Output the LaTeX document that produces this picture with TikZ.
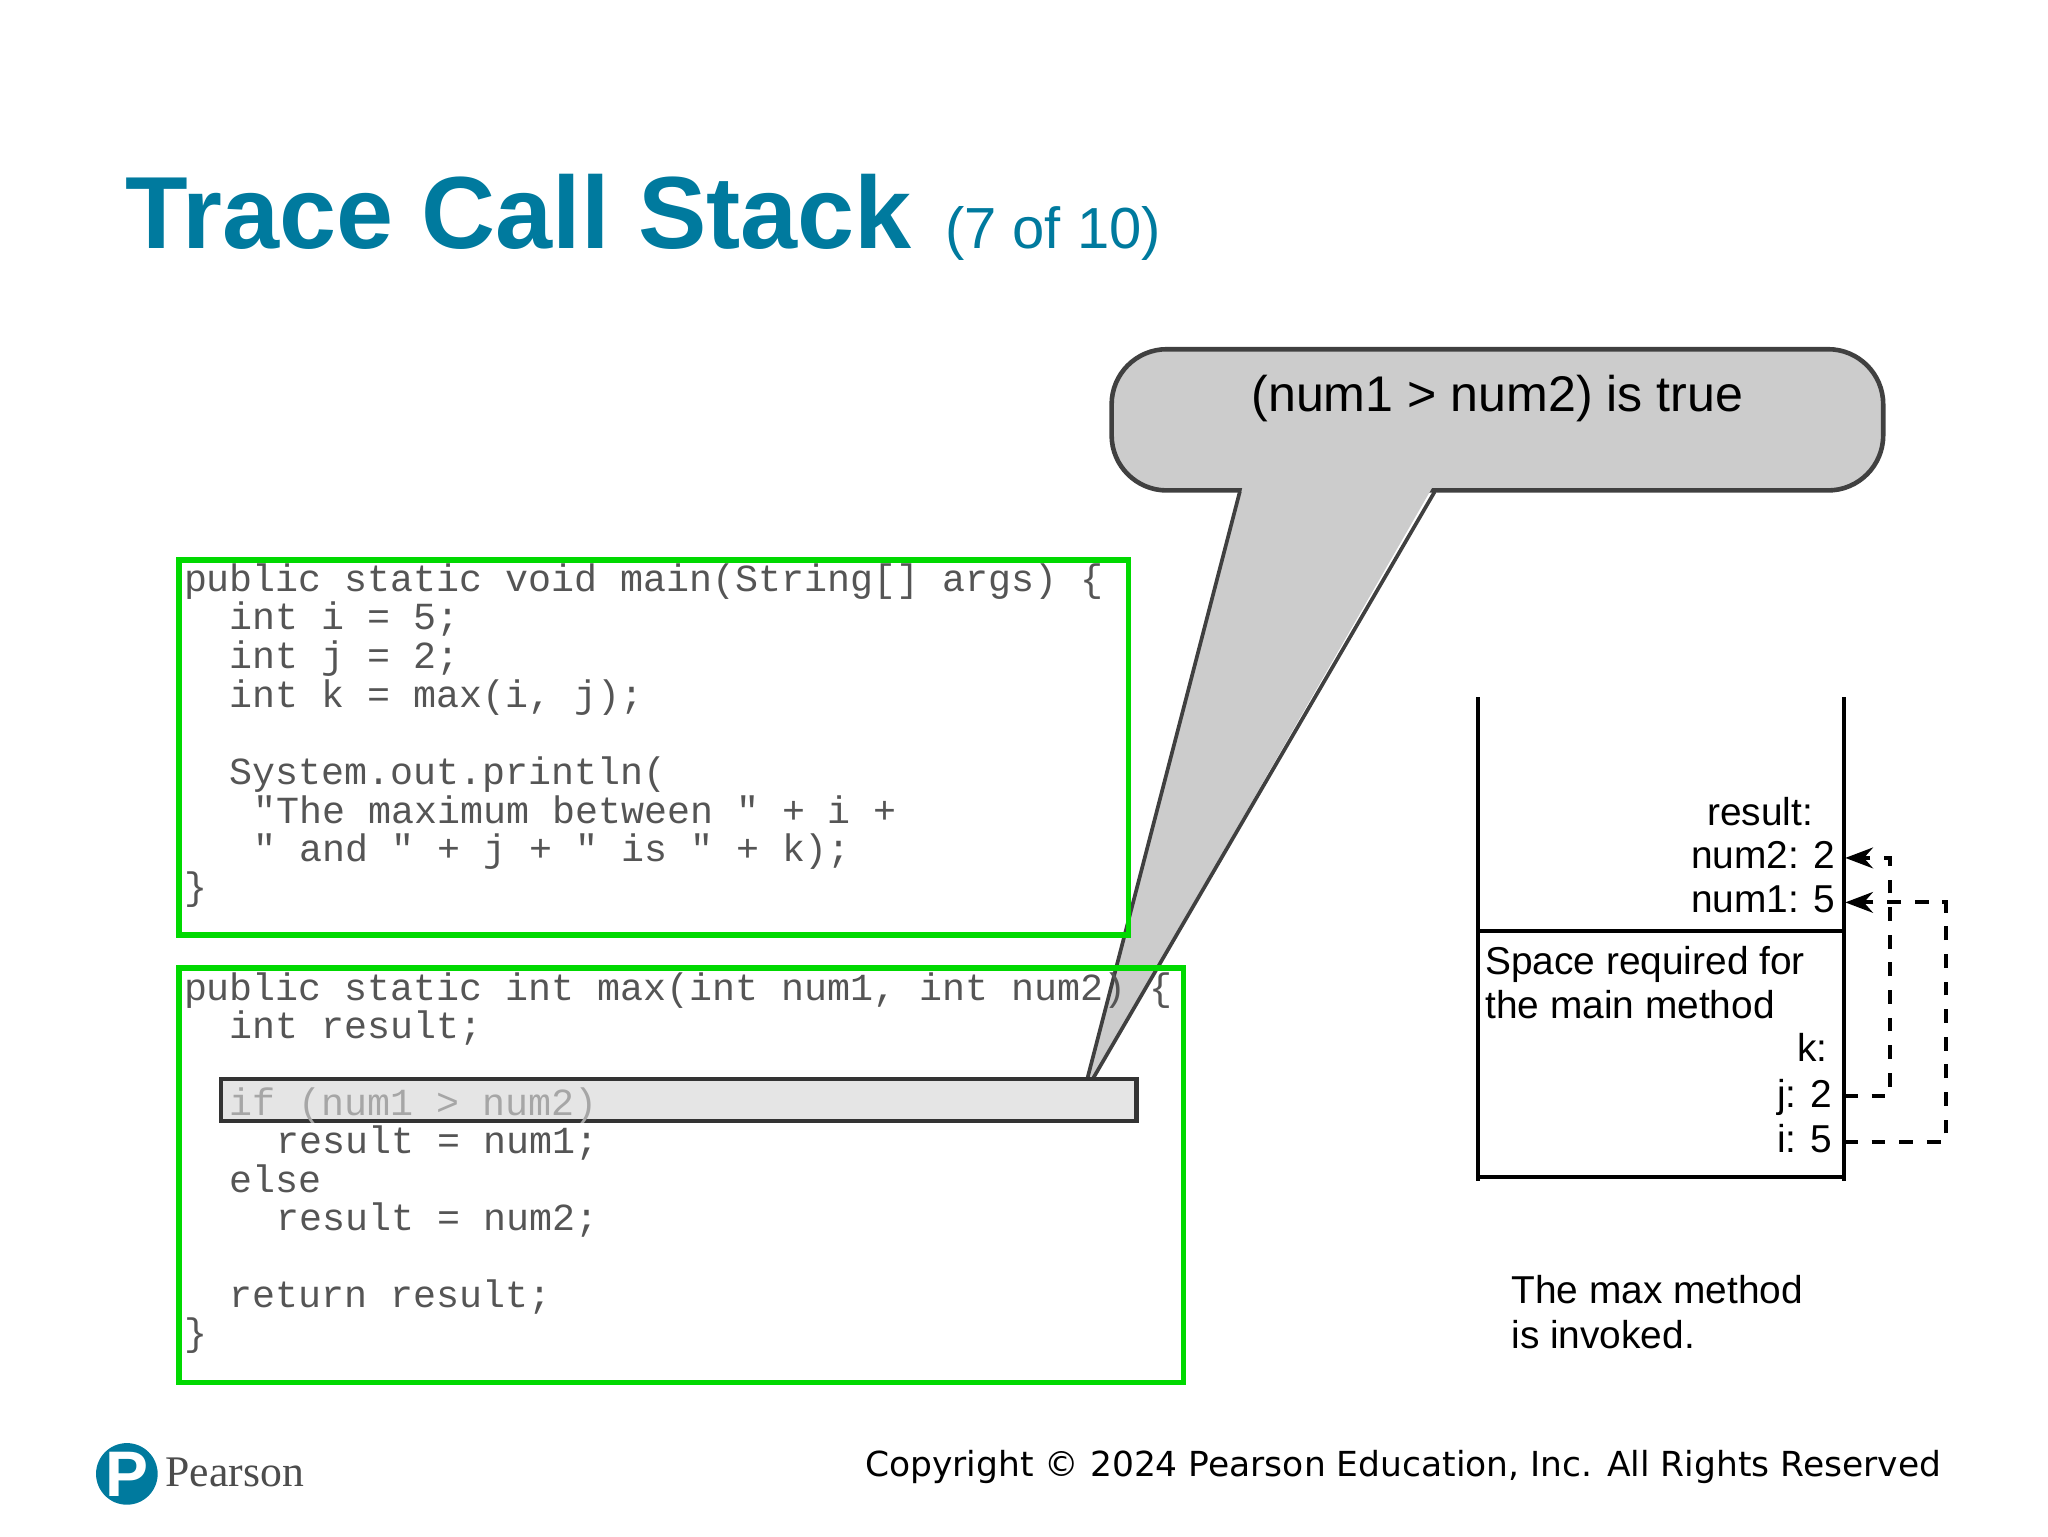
\documentclass[tikz,border=0pt]{standalone}
\usepackage{fontspec}
\setmainfont{Liberation Sans}
\newfontfamily\codefont{Liberation Mono}
\newfontfamily\dejavu{DejaVu Sans}
\usetikzlibrary{arrows.meta}
\definecolor{teal}{RGB}{0,122,158}
\definecolor{codegray}{RGB}{85,85,85}
\begin{document}
\begin{tikzpicture}[x=0.01cm,y=-0.01cm,
  code/.style={anchor=base west,inner sep=0,text=codegray,font=\codefont\fontsize{8.33}{8.4}\selectfont},
  lab/.style={anchor=base east,inner sep=0,font=\fontsize{8.45}{9}\selectfont},
  labw/.style={anchor=base west,inner sep=0,font=\fontsize{8.45}{9}\selectfont},
  greenbox/.style={draw=green!85!black,line width=1.2pt},
  dasharrow/.style={dashed,line width=0.9pt,-{Stealth[length=6pt]}}]
\useasboundingbox (0,0) rectangle (1566,1174.5);
\node[anchor=base west,inner sep=0,text=teal,font=\bfseries\fontsize{22.3}{26}\selectfont] (title) at (95,190) {Trace Call Stack};
\node[anchor=base west,inner sep=0,text=teal,font=\fontsize{12.6}{15}\selectfont] (sub) at (722,190) {(7 of 10)};
% callout
\draw[fill=gray!40,draw=black!75,line width=1pt,rounded corners=12pt] (850,267) rectangle (1440,375);
\fill[gray!40] (950,373) -- (1095,373) -- (828,838) -- cycle;
\draw[black!75,line width=0.8pt] (948,376) -- (828,838) -- (1097,376);
\node[font=\fontsize{10.9}{13}\selectfont,inner sep=0] (callout) at (1145,305) {(num1 > num2) is true};
% boxes
\draw[greenbox] (137,428) rectangle (863,715);
\draw[greenbox] (137,740) rectangle (905,1057);
\draw[fill=gray!20,draw=black!80,line width=1pt] (169,825) rectangle (869,857);
% code main
\node[code] (m1) at (140,452) {public static void main(String[] args) \{};
\node[code] (m2) at (175,481) {int i = 5;};
\node[code] (m3) at (175,511) {int j = 2;};
\node[code] (m4) at (175,541) {int k = max(i, j);};
\node[code] (m5) at (175,600) {System.out.println(};
\node[code] (m6) at (193,630) {"The maximum between " + i +};
\node[code] (m7) at (193,659) {" and " + j + " is " + k);};
\node[code] (m8) at (140,688) {\}};
% code max
\node[code] (x1) at (140,765) {public static int max(int num1, int num2) \{};
\node[code] (x2) at (175,794) {int result;};
\node[code,text=gray!70] (x3) at (175,853) {if (num1 > num2)};
\node[code] (x4) at (211,882) {result = num1;};
\node[code] (x5) at (175,912) {else};
\node[code] (x6) at (211,941) {result = num2;};
\node[code] (x7) at (175,1000) {return result;};
\node[code] (x8) at (140,1029) {\}};
% stack
\draw[line width=1pt] (1130,533) -- (1130,903);
\draw[line width=1pt] (1410,533) -- (1410,903);
\draw[line width=1pt] (1130,900) -- (1410,900);
\draw[line width=1pt] (1130,712) -- (1410,712);
\node[lab] (res) at (1387,631) {result:};
\node[lab] (n2) at (1404,664) {num2: 2};
\node[lab] (n1) at (1404,698) {num1: 5};
\node[labw] (sp1) at (1135,745) {Space required for};
\node[labw] (sp2) at (1135,779) {the main method};
\node[lab] (k) at (1398,812) {k:};
\node[lab] (j) at (1402,847) {j: 2};
\node[lab] (i) at (1402,881) {i: 5};
\coordinate (jo) at (1410,838);
\coordinate (io) at (1410,873);
\coordinate (n2i) at (1411,656);
\coordinate (n1i) at (1411,690);
\draw[dasharrow] (jo) -- (1445,838) -- (1445,656) -- (n2i);
\draw[dasharrow] (io) -- (1488,873) -- (1488,690) -- (n1i);
\node[labw] (c1) at (1155,997) {The max method};
\node[labw] (c2) at (1155,1031) {is invoked.};
% footer
\node[circle,fill=teal,minimum size=46pt*0.01/0.0352778,inner sep=0,text=white,font=\bfseries\fontsize{14}{14}\selectfont] (logo) at (97,1127) {P};
\node[anchor=base west,inner sep=0,text=black!70,font=\setmainfont{Liberation Serif}\fontsize{9.5}{12}\selectfont] (pearson) at (126,1137) {Pearson};
\node[anchor=base east,inner sep=0,font=\dejavu\fontsize{7.5}{9}\selectfont] (copy) at (1485,1129) {Copyright © 2024 Pearson Education, Inc. All Rights Reserved};
\end{tikzpicture}
\end{document}
